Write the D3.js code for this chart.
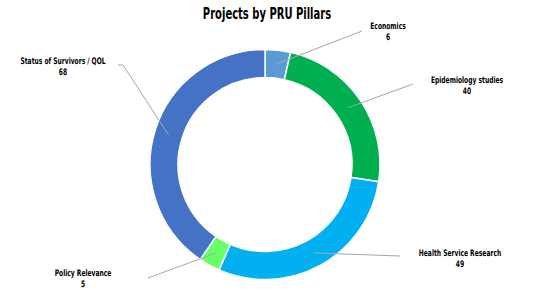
<!DOCTYPE html>
<html>
<head>
<meta charset="utf-8">
<script src="https://cdn.jsdelivr.net/npm/d3@7"></script>
<style>
  body { margin: 0; background: #fff; }
  text { font-family: "DejaVu Sans Condensed", "DejaVu Sans", sans-serif; font-weight: bold; fill: #000; }
</style>
</head>
<body>
<div id="chart"></div>
<script>
var w = 540;
var h = 300;

// data
var pillars = ["Economics", "Epidemiology studies", "Health Service Research", "Policy Relevance", "Status of Survivors / QOL"];
var projects = [6, 40, 49, 5, 68];
var colors = ["#5B9BD5", "#00B050", "#00B0F0", "#66FF66", "#4472C4"];

// where each label sits (layout, not data)
var labelX = [388, 467, 460, 83, 63];
var labelY = [26, 80, 253, 273, 61];
// end of leader line next to label
var elbowX = [362, 413, 400, 148, 123];
var elbowY = [31, 84, 256, 278, 65];

var cx = 265, cy = 164.5;
var outerR = 115, innerR = 87;
var squeeze = 0.74; // condensed look

var svg = d3.select("#chart")
  .append("svg")
  .attr("width", w)
  .attr("height", h);

svg.append("text")
  .attr("transform", "translate(267,19) scale(" + squeeze + ",1)")
  .attr("text-anchor", "middle")
  .style("font-size", "15px")
  .text("Projects by PRU Pillars");

var data = pillars.map(function(p, i){ return {name: p, value: projects[i], color: colors[i], i: i}; });

var pie = d3.pie().sort(null).value(function(d){ return d.value; });
var arcs = pie(data);

var arc = d3.arc().innerRadius(innerR).outerRadius(outerR);
var midArc = d3.arc().innerRadius((innerR + outerR) / 2).outerRadius((innerR + outerR) / 2);

var g = svg.append("g").attr("transform", "translate(" + cx + "," + cy + ")");

g.selectAll("path.slice")
  .data(arcs)
  .enter().append("path")
  .attr("class", "slice")
  .attr("d", arc)
  .style("fill", function(d){ return d.data.color; })
  .style("stroke", "#fff")
  .style("stroke-width", 1.5);

// leader lines
svg.selectAll("polyline.leader")
  .data(arcs)
  .enter().append("polyline")
  .attr("class", "leader")
  .attr("points", function(d){
    var c = midArc.centroid(d);
    var i = d.data.i;
    var pts = [[cx + c[0], cy + c[1]], [elbowX[i], elbowY[i]]];
    if (d.data.name === "Status of Survivors / QOL") pts.push([elbowX[i] - 5, elbowY[i]]);
    return pts.map(function(p){ return p.join(","); }).join(" ");
  })
  .style("fill", "none")
  .style("stroke", "#A6A6A6")
  .style("stroke-width", 1);

var labels = svg.selectAll("text.lbl")
  .data(arcs)
  .enter().append("text")
  .attr("class", "lbl")
  .attr("transform", function(d){
    return "translate(" + labelX[d.data.i] + "," + labelY[d.data.i] + ") scale(" + squeeze + ",1)";
  })
  .attr("text-anchor", "middle")
  .style("font-size", "9px");

labels.append("tspan")
  .attr("x", 0)
  .attr("y", 3)
  .text(function(d){ return d.data.name; });

labels.append("tspan")
  .attr("x", 0)
  .attr("y", 14)
  .text(function(d){ return d.data.value; });
</script>
</body>
</html>
